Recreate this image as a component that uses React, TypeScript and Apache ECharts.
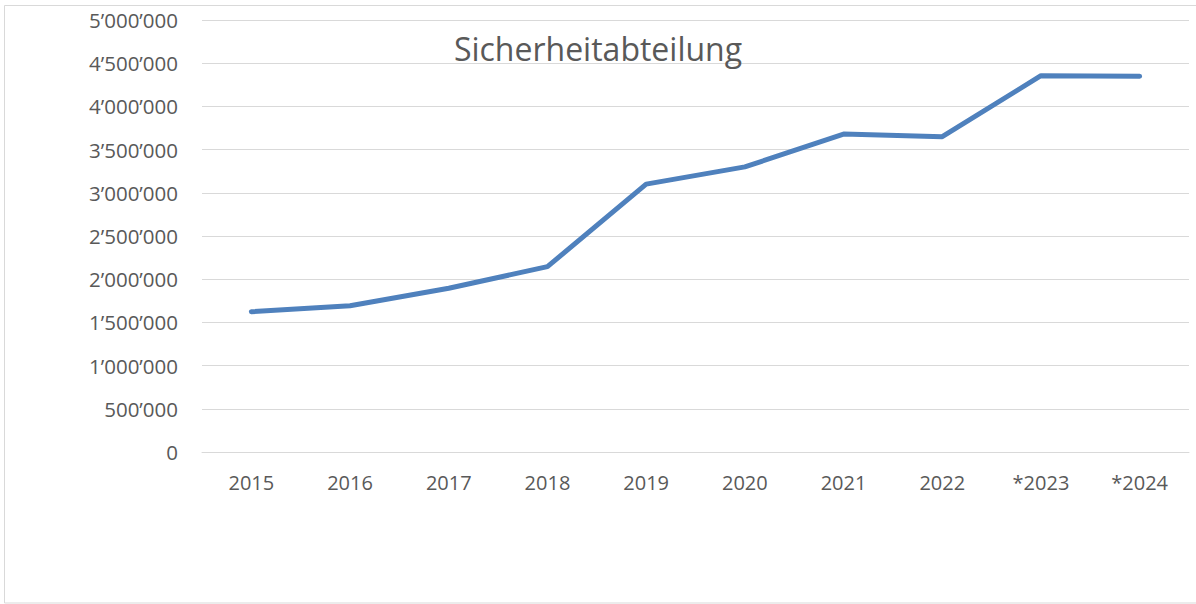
import React, { useEffect, useRef } from "react";
import * as echarts from "echarts";

const categories = ["2015", "2016", "2017", "2018", "2019", "2020", "2021", "2022", "*2023", "*2024"];
const values = [1624000, 1693000, 1895000, 2145000, 3100000, 3300000, 3680000, 3650000, 4355000, 4350000];
const titleText = "Sicherheitabteilung";
const yMin = 0;
const yMax = 5000000;
const yInterval = 500000;

function fmt(v: number): string {
  return String(v).replace(/\B(?=(\d{3})+(?!\d))/g, "\u2019");
}

export default function App() {
  const ref = useRef<HTMLDivElement>(null);
  useEffect(() => {
    document.body.style.margin = "0";
    const chart = echarts.init(ref.current!, null, { renderer: "svg" });
    chart.setOption({
      animation: false,
      backgroundColor: "#ffffff",
      title: {
        text: titleText,
        left: "center",
        top: 27,
        textStyle: {
          fontFamily: "Open Sans",
          fontSize: 32,
          fontWeight: "normal",
          color: "#595959",
        },
      },
      graphic: [
        {
          type: "rect",
          shape: { x: 4.5, y: 5.5, width: 1200, height: 597.5 },
          style: { fill: "none", stroke: "#d9d9d9", lineWidth: 1 },
          z: -1,
        },
      ],
      grid: { left: 202, right: 7, top: 20, bottom: 152, containLabel: false },
      xAxis: {
        type: "category",
        data: categories,
        boundaryGap: true,
        axisLine: { show: true, lineStyle: { color: "#d9d9d9", width: 1 } },
        axisTick: { show: false },
        axisLabel: {
          color: "#595959",
          fontFamily: "Open Sans",
          fontSize: 20,
          margin: 20,
        },
      },
      yAxis: {
        type: "value",
        min: yMin,
        max: yMax,
        interval: yInterval,
        axisLine: { show: false },
        axisTick: { show: false },
        splitLine: { lineStyle: { color: "#d9d9d9", width: 1 } },
        axisLabel: {
          color: "#595959",
          fontFamily: "Open Sans",
          fontSize: 20.5,
          margin: 24,
          formatter: (v: number) => fmt(v),
        },
      },
      series: [
        {
          type: "line",
          data: values,
          showSymbol: false,
          symbol: "none",
          lineStyle: { color: "#4f81bd", width: 5, cap: "round", join: "round" },
        },
      ],
    });
    return () => chart.dispose();
  }, []);
  return <div ref={ref} style={{ width: 1196, height: 604 }} />;
}
